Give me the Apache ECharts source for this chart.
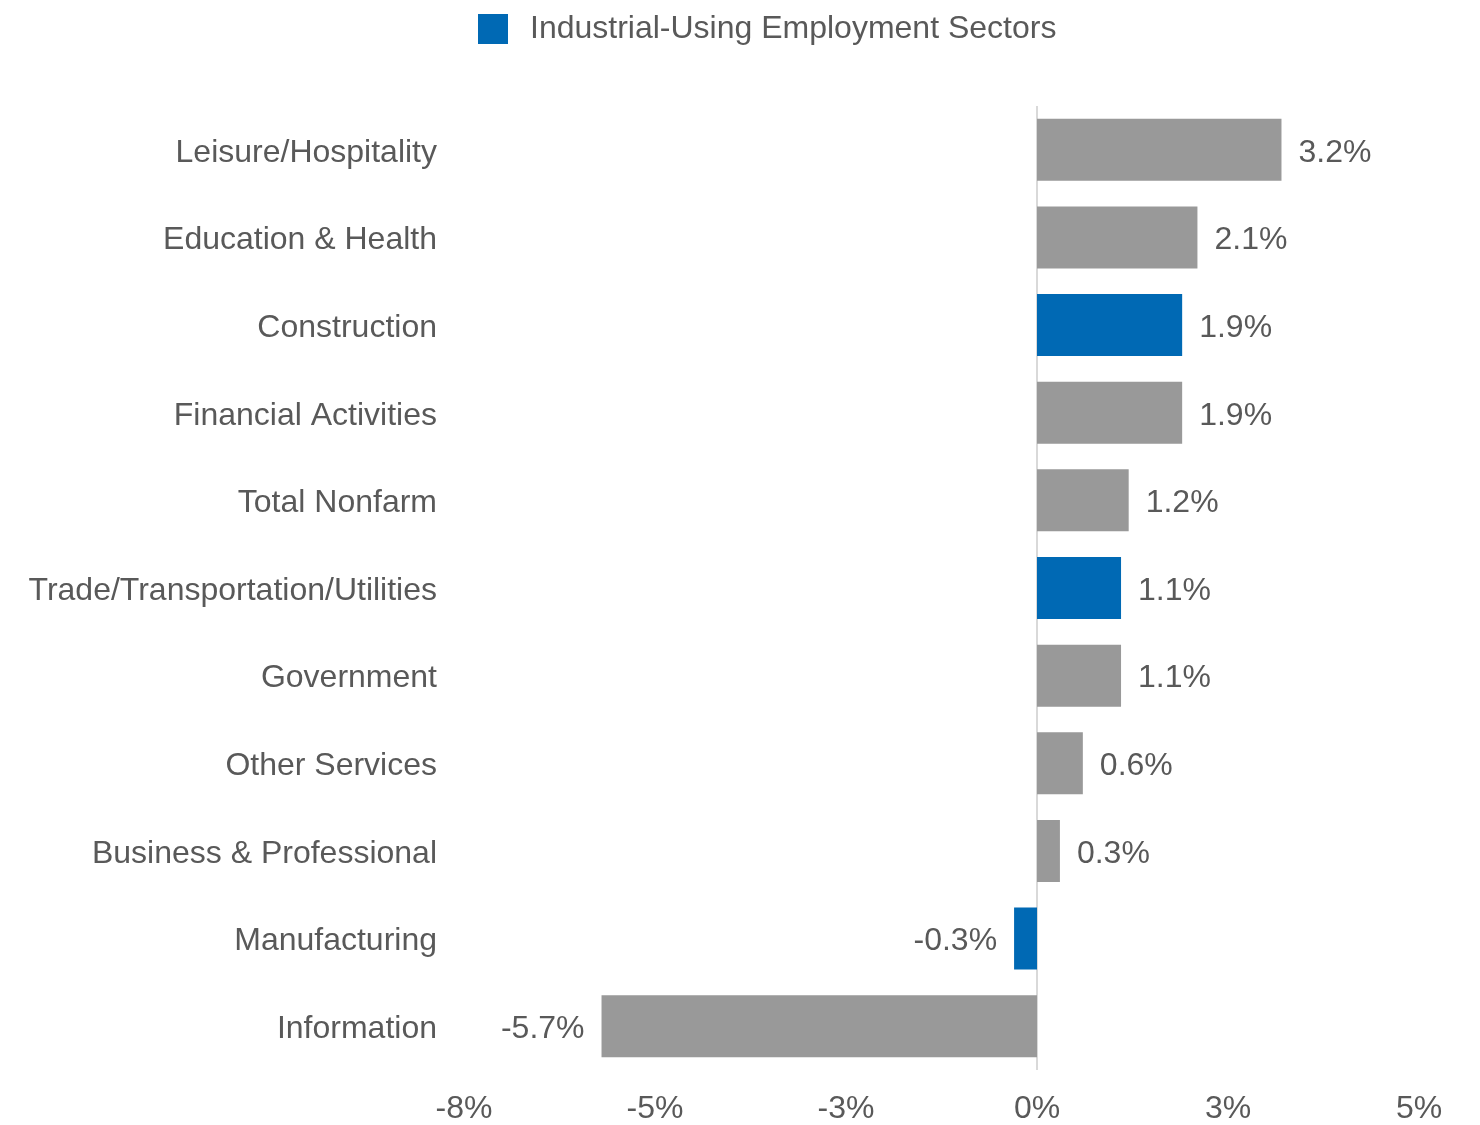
<!DOCTYPE html>
<html>
<head>
<meta charset="utf-8">
<script src="https://cdn.jsdelivr.net/npm/echarts@6/dist/echarts.min.js"></script>
<style>
html,body{margin:0;padding:0;background:#fff;}
#chart{width:1480px;height:1125px;}
</style>
</head>
<body>
<div id="chart"></div>
<script>
const categories = ['Leisure/Hospitality','Education & Health','Construction','Financial Activities','Total Nonfarm','Trade/Transportation/Utilities','Government','Other Services','Business & Professional','Manufacturing','Information'];
const values = [3.2, 2.1, 1.9, 1.9, 1.2, 1.1, 1.1, 0.6, 0.3, -0.3, -5.7];
const industrialUsing = [false, false, true, false, false, true, false, false, false, true, false];
const tickLabels = ['-8%', '-5%', '-3%', '0%', '3%', '5%'];
const legendName = 'Industrial-Using Employment Sectors';

const blueData = values.map((v, i) => industrialUsing[i] ? v : '-');
const grayData = values.map((v, i) => industrialUsing[i] ? '-' : v);

const FONT = 'Liberation Sans, Arial, sans-serif';
const TXT = '#595959';
const FS = 32;

function lbl() {
  return {
    show: true,
    position: 'right',
    distance: 17,
    color: TXT,
    fontSize: FS,
    fontFamily: FONT,
    offset: [0, 3],
    formatter: p => p.value.toFixed(1) + '%'
  };
}
function makeData(arr) {
  return arr.map(v => {
    if (v === '-') return '-';
    if (v < 0) return { value: v, label: { position: 'left' } };
    return v;
  });
}

const chart = echarts.init(document.getElementById('chart'), null, {renderer: 'canvas'});
chart.setOption({
  animation: false,
  backgroundColor: '#ffffff',
  textStyle: { fontFamily: FONT },
  legend: {
    data: [legendName],
    left: 473,
    top: 8,
    itemWidth: 30,
    itemHeight: 30,
    itemGap: 10,
    textStyle: { color: TXT, fontSize: FS, fontFamily: FONT, padding: [3, 0, 0, 17] },
    icon: 'rect'
  },
  grid: { left: 464, right: 61, top: 106, bottom: 53, containLabel: false },
  xAxis: {
    type: 'value',
    min: -7.5,
    max: 5,
    interval: 2.5,
    axisLine: { show: false },
    axisTick: { show: false },
    splitLine: { show: false },
    axisLabel: {
      color: TXT,
      fontSize: FS,
      fontFamily: FONT,
      margin: 23,
      formatter: (v) => {
        const idx = Math.round((v + 7.5) / 2.5);
        return tickLabels[idx];
      }
    }
  },
  yAxis: {
    type: 'category',
    data: categories,
    inverse: true,
    axisLine: { show: false },
    axisTick: { show: false },
    splitLine: { show: false },
    axisLabel: { color: TXT, fontSize: FS, fontFamily: FONT, margin: 27, interval: 0, verticalAlign: 'top', lineHeight: 6 }
  },
  series: [
    {
      name: legendName,
      type: 'bar',
      data: makeData(blueData),
      barWidth: 62,
      barGap: '-100%',
      itemStyle: { color: '#0069b4' },
      label: lbl(),
      z: 3
    },
    {
      name: 'Other Sectors',
      type: 'bar',
      data: makeData(grayData),
      barWidth: 62,
      barGap: '-100%',
      itemStyle: { color: '#999999' },
      label: lbl(),
      z: 3,
      markLine: {
        silent: true,
        symbol: 'none',
        label: { show: false },
        lineStyle: { color: '#d9d9d9', width: 2, type: 'solid' },
        data: [{ xAxis: 0 }],
        z: 1
      }
    }
  ]
});
</script>
</body>
</html>
